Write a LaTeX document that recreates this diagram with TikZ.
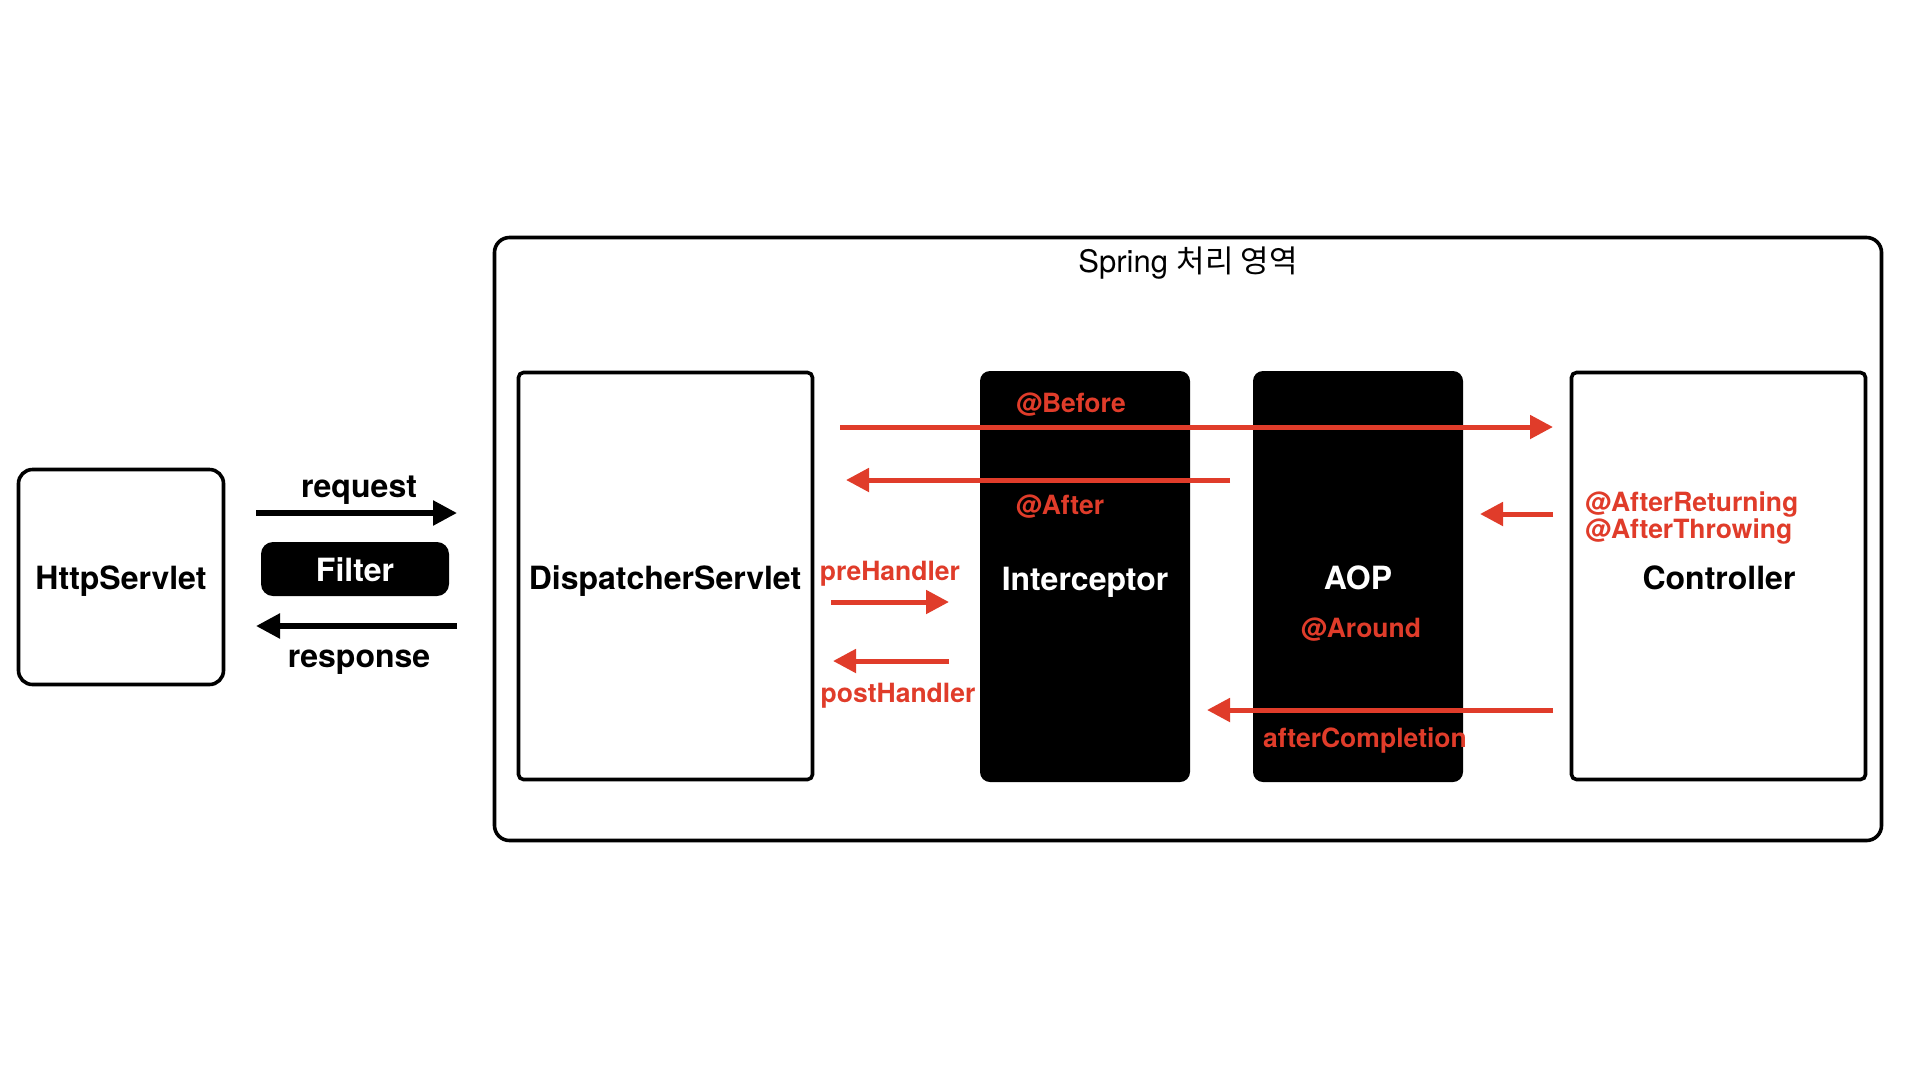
\documentclass[tikz,border=0pt]{standalone}
\usepackage{fontspec}
\setmainfont{TeX Gyre Heros}
\newfontfamily\krfont{Noto Sans CJK KR}
\usetikzlibrary{arrows.meta}
\definecolor{sred}{RGB}{224,60,42}
\begin{document}
\begin{tikzpicture}[x=1pt,y=-1pt,
  wbox/.style={draw=black,line width=3.6pt,fill=white,rounded corners=5pt,inner sep=0pt},
  bbox/.style={fill=black,rounded corners=10pt,inner sep=0pt},
  lbl/.style={font=\fontsize{32}{38}\selectfont\bfseries,inner sep=0pt},
  wlbl/.style={lbl,text=white},
  rlbl/.style={font=\fontsize{26.5}{26.5}\selectfont\bfseries,text=sred,inner sep=0pt},
  rarr/.style={draw=sred,line width=5pt,-{Triangle[length=23pt,width=23pt]}},
  karr/.style={draw=black,line width=5.5pt,-{Triangle[length=24pt,width=24pt]}}]
\useasboundingbox[fill=white] (0,0) rectangle (1920,1080);

% outer Spring region
\node[draw=black,line width=3.6pt,rounded corners=15pt,minimum width=1387pt,minimum height=603pt,inner sep=0pt]
  (spring) at (1188,539) {};
\node[inner sep=0pt,font=\fontsize{31}{36}\selectfont] (title) at (1188,263) {Spring {\krfont 처리 영역}};

% boxes
\node[wbox,rounded corners=14pt,minimum width=205pt,minimum height=215pt] (http) at (121,577) {};
\node[bbox,rounded corners=12pt,minimum width=188pt,minimum height=54pt] (filter) at (355,569) {};
\node[wbox,minimum width=294pt,minimum height=407pt] (ds) at (665.5,576) {};
\node[bbox,minimum width=210pt,minimum height=411pt] (inter) at (1085,576.5) {};
\node[bbox,minimum width=210pt,minimum height=411pt] (aop) at (1358,576.5) {};
\node[wbox,minimum width=294pt,minimum height=407pt] (ctrl) at (1718.5,576) {};

% box texts
\node[lbl] (httptxt) at (121,581) {HttpServlet};
\node[wlbl] (filtertxt) at (355,570) {Filter};
\node[lbl] (dstxt) at (665,581) {DispatcherServlet};
\node[wlbl] (intertxt) at (1085,582) {Interceptor};
\node[wlbl] (aoptxt) at (1358,578) {AOP};
\node[lbl] (ctrltxt) at (1719,578) {Controller};

% arrow end points
\coordinate (reqA) at (256,513);  \coordinate (reqB) at (457,513);
\coordinate (resA) at (457,626);  \coordinate (resB) at (256,626);
\coordinate (befA) at (840,427);  \coordinate (befB) at (1553,427);
\coordinate (aftA) at (1230,480); \coordinate (aftB) at (846,480);
\coordinate (retA) at (1553,514); \coordinate (retB) at (1480,514);
\coordinate (preA) at (831,602);  \coordinate (preB) at (949,602);
\coordinate (posA) at (949,661);  \coordinate (posB) at (833,661);
\coordinate (comA) at (1553,710); \coordinate (comB) at (1207,710);

% black arrows
\draw[karr] (reqA) -- (reqB);
\draw[karr] (resA) -- (resB);
\node[lbl] (reqtxt) at (359,490) {request};
\node[lbl] (restxt) at (359,662) {response};

% red arrows
\draw[rarr] (befA) -- (befB);
\draw[rarr] (aftA) -- (aftB);
\draw[rarr] (retA) -- (retB);
\draw[rarr] (preA) -- (preB);
\draw[rarr] (posA) -- (posB);
\draw[rarr] (comA) -- (comB);

% red labels
\node[rlbl] (before) at (1071,405) {@Before};
\node[rlbl] (after) at (1060,507) {@After};
\node[rlbl,anchor=west,align=left] (afterret) at (1585,518) {@AfterReturning\\@AfterThrowing};
\node[rlbl] (pre) at (890,574) {preHandler};
\node[rlbl] (post) at (898,696) {postHandler};
\node[rlbl] (around) at (1361,630) {@Around};
\node[rlbl] (compl) at (1365,741) {afterCompletion};
\end{tikzpicture}
\end{document}
